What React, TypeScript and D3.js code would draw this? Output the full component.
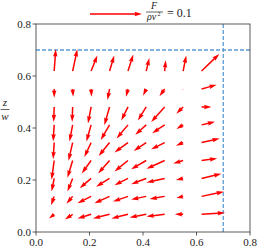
import React from "react";
import * as d3 from "d3";

// grid positions (x along the plate, z up)
const xLevels = [0.068, 0.137, 0.206, 0.275, 0.344, 0.412, 0.481, 0.55, 0.619];
const zLevels = [0.068, 0.137, 0.206, 0.275, 0.344, 0.412, 0.481, 0.55, 0.619];

// horizontal force component, one row per z level (bottom row first)
const uRows = [
  [-0.010, -0.015, -0.026, -0.032, -0.032, -0.032, -0.035, -0.016, 0.045],
  [-0.006, -0.012, -0.026, -0.029, -0.029, -0.029, -0.029, -0.013, 0.043],
  [-0.005, -0.010, -0.022, -0.026, -0.026, -0.029, -0.035, -0.014, 0.038],
  [-0.005, -0.010, -0.018, -0.022, -0.026, -0.029, -0.035, -0.019, 0.030],
  [-0.002, -0.008, -0.013, -0.021, -0.026, -0.024, -0.026, -0.014, 0.035],
  [-0.002, -0.006, -0.009, -0.017, -0.022, -0.021, -0.024, -0.013, 0.026],
  [-0.001, -0.001, -0.006, -0.010, -0.013, -0.016, -0.026, -0.013, 0.019],
  [0.000, 0.001, 0.001, -0.004, -0.004, -0.006, -0.010, -0.001, 0.029],
  [0.003, 0.009, 0.012, 0.009, 0.010, 0.006, 0.002, 0.006, 0.034],
];

// vertical force component
const wRows = [
  [-0.008, -0.010, -0.008, -0.008, -0.008, -0.006, -0.004, 0.000, 0.003],
  [-0.017, -0.014, -0.013, -0.013, -0.010, -0.006, -0.005, -0.003, 0.009],
  [-0.025, -0.025, -0.019, -0.016, -0.013, -0.011, -0.008, -0.003, 0.009],
  [-0.037, -0.033, -0.025, -0.025, -0.021, -0.017, -0.016, -0.006, 0.004],
  [-0.032, -0.035, -0.028, -0.026, -0.019, -0.016, -0.013, -0.006, 0.008],
  [-0.032, -0.032, -0.032, -0.029, -0.026, -0.019, -0.016, -0.008, 0.006],
  [-0.029, -0.029, -0.032, -0.035, -0.026, -0.026, -0.029, -0.013, 0.000],
  [-0.017, -0.015, -0.015, -0.021, -0.015, -0.013, -0.014, -0.002, 0.008],
  [0.042, 0.042, 0.030, 0.030, 0.032, 0.025, 0.021, 0.030, 0.033],
];

const xTicks = [0.0, 0.2, 0.4, 0.6, 0.8];
const yTicks = [0.0, 0.2, 0.4, 0.6, 0.8];
const boundary = 0.7;
const keyValue = 0.1;

const W = 264;
const H = 248;
const serif = "Liberation Serif, DejaVu Serif, serif";

// matplotlib-like quiver arrow polygon
function arrowPath(x0: number, y0: number, dx: number, dy: number, w: number) {
  const HL = 5 * w, HAL = 4.5 * w, HW = 3 * w;
  const L = Math.hypot(dx, dy);
  if (L < 0.05) return "";
  let s = 1;
  let len = L;
  if (L < HL) {
    s = L / HL;
    len = HL;
  }
  const pts: [number, number][] = [
    [0, -w / 2],
    [len - HAL, -w / 2],
    [len - HL, -HW / 2],
    [len, 0],
    [len - HL, HW / 2],
    [len - HAL, w / 2],
    [0, w / 2],
  ];
  const a = Math.atan2(dy, dx);
  const c = Math.cos(a), sn = Math.sin(a);
  return (
    "M" +
    pts
      .map(([px, py]) => {
        const X = px * s, Y = py * s;
        return `${(x0 + X * c - Y * sn).toFixed(2)},${(y0 + X * sn + Y * c).toFixed(2)}`;
      })
      .join("L") +
    "Z"
  );
}

export default function App() {
  const x = d3.scaleLinear().domain([0, 0.8]).range([36, 250]);
  const y = d3.scaleLinear().domain([0, 0.8]).range([232, 24]);
  const len = d3.scaleLinear().domain([0, keyValue]).range([0, 52]);
  const sw = 1.5;

  const arrows: string[] = [];
  zLevels.forEach((z, i) => {
    xLevels.forEach((xv, j) => {
      arrows.push(arrowPath(x(xv), y(z), len(uRows[i][j]), -len(wRows[i][j]), sw));
    });
  });

  const fmt = d3.format(".1f");

  return (
    <svg
      width={W}
      height={H}
      style={{ position: "absolute", left: 0, top: 0, background: "#fff" }}
    >
      <rect x={0} y={0} width={W} height={H} fill="#fff" />
      {/* dashed boundary lines */}
      <line
        x1={x(0)} x2={x(0.8)} y1={y(boundary)} y2={y(boundary)}
        stroke="#5b9bd5" strokeWidth={1.3} strokeDasharray="4,2"
      />
      <line
        x1={x(boundary)} x2={x(boundary)} y1={y(0)} y2={y(0.8)}
        stroke="#5b9bd5" strokeWidth={1.3} strokeDasharray="4,2"
      />
      {arrows.map((d, i) => (
        <path key={i} d={d} fill="#ff0000" />
      ))}
      {/* frame */}
      <rect
        x={x(0)} y={y(0.8)} width={x(0.8) - x(0)} height={y(0) - y(0.8)}
        fill="none" stroke="#333" strokeWidth={0.8}
      />
      {xTicks.map((t) => (
        <g key={"x" + t}>
          <line x1={x(t)} x2={x(t)} y1={y(0)} y2={y(0) + 3.5} stroke="#333" strokeWidth={0.8} />
          <text x={x(t)} y={y(0) + 14} textAnchor="middle" fontFamily={serif} fontSize={11} fill="#222">
            {fmt(t)}
          </text>
        </g>
      ))}
      {yTicks.map((t) => (
        <g key={"y" + t}>
          <line x1={x(0) - 3.5} x2={x(0)} y1={y(t)} y2={y(t)} stroke="#333" strokeWidth={0.8} />
          <text x={x(0) - 5} y={y(t) + 4} textAnchor="end" fontFamily={serif} fontSize={11} fill="#222">
            {fmt(t)}
          </text>
        </g>
      ))}
      {/* y label z / w */}
      <g fontFamily={serif} fontSize={11} fontStyle="italic" fill="#222" textAnchor="middle">
        <text x={5} y={106}>z</text>
        <line x1={0.5} x2={9.5} y1={109.5} y2={109.5} stroke="#222" strokeWidth={0.7} />
        <text x={5} y={120}>w</text>
      </g>
      {/* quiver key */}
      <path d={arrowPath(90, 14, len(keyValue), 0, sw)} fill="#ff0000" />
      <g fontFamily={serif} fill="#222">
        <text x={154} y={9} fontSize={10} fontStyle="italic" textAnchor="middle">F</text>
        <line x1={146} x2={163} y1={12} y2={12} stroke="#222" strokeWidth={0.7} />
        <text x={147} y={20} fontSize={10} fontStyle="italic">ρv</text>
        <text x={157.5} y={16} fontSize={6}>2</text>
        <text x={167} y={17} fontSize={12}>= 0.1</text>
      </g>
    </svg>
  );
}
